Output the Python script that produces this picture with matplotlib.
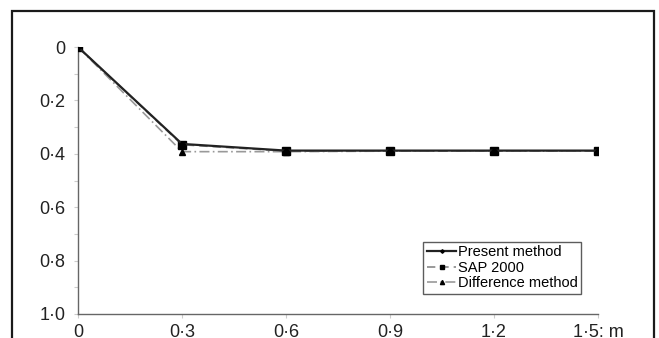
import matplotlib
matplotlib.use("Agg")
import matplotlib.pyplot as plt
from matplotlib.patches import Rectangle
from matplotlib.ticker import MultipleLocator

# distance along member (m) and deflection values
x = [0.0, 0.3, 0.6, 0.9, 1.2, 1.5]
present = [0.0, 0.363, 0.388, 0.388, 0.388, 0.388]
sap2000 = [0.0, 0.366, 0.390, 0.389, 0.389, 0.389]
difference = [0.0, 0.392, 0.392, 0.390, 0.390, 0.390]

x_ticks = [0.0, 0.3, 0.6, 0.9, 1.2, 1.5]
x_labels = ["0", "0·3", "0·6", "0·9", "1·2", "1·5: m"]
y_ticks = [0.0, 0.2, 0.4, 0.6, 0.8, 1.0]
y_labels = ["0", "0·2", "0·4", "0·6", "0·8", "1·0"]

plt.rcParams["font.family"] = ["Liberation Sans", "DejaVu Sans"]

fig = plt.figure(figsize=(6.59, 3.38), dpi=100)
ax = fig.add_axes([78 / 659, 24 / 338, 520 / 659, 267 / 338])

# outer frame (bottom edge runs off the image)
fig.patches.append(Rectangle((12 / 659, -0.05), 642 / 659, 1.05 - 11 / 338,
                             transform=fig.transFigure, fill=False,
                             edgecolor="#1a1a1a", linewidth=1.6))

ax.plot(x, difference, color="#999999", linestyle=(0, (6, 2, 1, 2)), linewidth=1.2,
        marker="^", markersize=5, markerfacecolor="black", markeredgecolor="black",
        label="Difference method", zorder=2)
ax.plot(x, sap2000, color="#888888", linestyle=(0, (5, 3)), linewidth=1.2,
        marker="s", markersize=6, markerfacecolor="black", markeredgecolor="black",
        label="SAP 2000", zorder=3)
ax.plot(x, present, color="#222222", linestyle="-", linewidth=1.6,
        marker="D", markersize=3, markerfacecolor="black", markeredgecolor="black",
        label="Present method", zorder=4)

ax.set_xlim(0, 1.5)
ax.set_ylim(1.0, 0.0)
ax.set_xticks(x_ticks)
ax.set_xticklabels(x_labels)
ax.set_yticks(y_ticks)
ax.set_yticklabels(y_labels)
ax.yaxis.set_minor_locator(MultipleLocator(0.1))
ax.tick_params(axis="both", which="both", colors="#cccccc", labelcolor="#222222",
               labelsize=13, length=3, width=0.8)
ax.tick_params(axis="y", pad=6)
ax.tick_params(axis="x", pad=4)

for s in ["top", "right"]:
    ax.spines[s].set_visible(False)
for s in ["left", "bottom"]:
    ax.spines[s].set_color("#666666")
    ax.spines[s].set_linewidth(1.0)

h, l = ax.get_legend_handles_labels()
leg = ax.legend(h[::-1], l[::-1], loc="lower left", bbox_to_anchor=(0.664, 0.075),
                fontsize=10.5, frameon=True, fancybox=False, handlelength=2.0,
                handletextpad=0.1, borderpad=0.25, labelspacing=0.1, borderaxespad=0,
                markerscale=0.6)
leg.get_frame().set_edgecolor("#333333")
leg.get_frame().set_linewidth(1.0)

fig.savefig("out.png", dpi=100)
